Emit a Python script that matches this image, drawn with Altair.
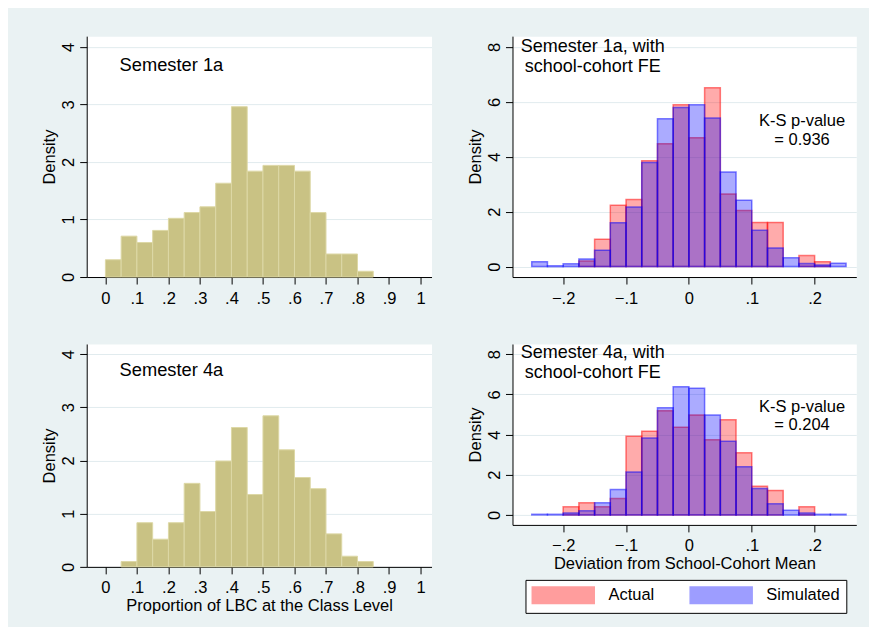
import altair as alt
import pandas as pd

FONT = "Liberation Sans"
BG = "#EAF2F3"
GRID = "#E1EBEE"
KHAKI = "#C9C284"
KHAKI_EDGE = "#DDD8A6"

# ---------------- data: left panels (Proportion of LBC, bin width .05)
lbc_bin_start = [0.00, 0.05, 0.10, 0.15, 0.20, 0.25, 0.30, 0.35, 0.40, 0.45,
                 0.50, 0.55, 0.60, 0.65, 0.70, 0.75, 0.80]
lbc_bin_end = [0.05, 0.10, 0.15, 0.20, 0.25, 0.30, 0.35, 0.40, 0.45, 0.50,
               0.55, 0.60, 0.65, 0.70, 0.75, 0.80, 0.85]
sem1_density = [0.30, 0.71, 0.60, 0.81, 1.02, 1.12, 1.22, 1.63, 2.96, 1.84,
                1.94, 1.94, 1.84, 1.12, 0.40, 0.40, 0.10]
sem4_density = [0.00, 0.10, 0.83, 0.52, 0.83, 1.57, 1.04, 1.99, 2.62, 1.36,
                2.84, 2.20, 1.68, 1.47, 0.62, 0.20, 0.10]

# ---------------- data: right panels (deviation from school-cohort mean, bin width .025)
dev_bin_start = [-0.250, -0.225, -0.200, -0.175, -0.150, -0.125, -0.100, -0.075, -0.050, -0.025,
                 0.000, 0.025, 0.050, 0.075, 0.100, 0.125, 0.150, 0.175, 0.200, 0.225]
dev_bin_end = [-0.225, -0.200, -0.175, -0.150, -0.125, -0.100, -0.075, -0.050, -0.025, 0.000,
               0.025, 0.050, 0.075, 0.100, 0.125, 0.150, 0.175, 0.200, 0.225, 0.250]
s1_actual = [0.00, 0.00, 0.00, 0.20, 1.00, 2.23, 2.44, 3.85, 4.47, 5.89,
             4.69, 6.51, 2.64, 2.04, 1.61, 1.61, 0.00, 0.40, 0.18, 0.00]
s1_simulated = [0.18, 0.03, 0.10, 0.28, 0.60, 1.60, 2.17, 3.79, 5.38, 5.79,
                5.89, 5.41, 3.44, 2.42, 1.32, 0.68, 0.32, 0.11, 0.06, 0.12]
s4_actual = [0.00, 0.00, 0.40, 0.60, 0.40, 0.81, 3.92, 4.17, 5.19, 4.36,
             4.98, 3.74, 4.74, 3.09, 1.42, 1.22, 0.00, 0.40, 0.00, 0.00]
s4_simulated = [0.03, 0.03, 0.10, 0.20, 0.60, 1.26, 2.13, 3.83, 5.34, 6.38,
                6.30, 4.98, 3.67, 2.40, 1.31, 0.55, 0.23, 0.10, 0.03, 0.03]
series_names = ["Actual", "Simulated"]
series_colors = ["#FF0000", "#0000FF"]

# ---------------- ticks / labels
lbc_ticks = [0, 0.1, 0.2, 0.3, 0.4, 0.5, 0.6, 0.7, 0.8, 0.9, 1]
dev_ticks = [-0.2, -0.1, 0, 0.1, 0.2]
left_y_ticks = [0, 1, 2, 3, 4]
right_y_ticks = [0, 2, 4, 6, 8]

s1_title = "Semester 1a"
s4_title = "Semester 4a"
s1fe_title = "Semester 1a, with\nschool-cohort FE"
s4fe_title = "Semester 4a, with\nschool-cohort FE"
s1_ks = "K-S p-value\n= 0.936"
s4_ks = "K-S p-value\n= 0.204"

LABEL_EXPR = ("datum.value == 0 ? '0' : (abs(datum.value - round(datum.value)) < 1e-9 ? "
              "format(datum.value, 'd') : replace(format(datum.value, '.1f'), '0.', '.'))")


def axis_x(values, title):
    kw = dict(values=values, grid=False, domainColor="black", domainWidth=1,
              tickColor="black", tickSize=7, tickWidth=1, labelFont=FONT,
              labelFontSize=16.5, labelColor="black", labelPadding=6,
              labelExpr=LABEL_EXPR, labelOverlap=False, labelFlush=False,
              labelBaseline="top", titleFont=FONT, titleFontSize=16.5,
              titleFontWeight="normal", titleColor="black", titlePadding=1)
    return alt.Axis(title=title, **kw)


def axis_y(values):
    return alt.Axis(values=values, title="Density", grid=True, gridColor=GRID, gridWidth=1,
                    domainColor="black", domainWidth=1, tickColor="black", tickSize=7,
                    tickWidth=1, labelFont=FONT, labelFontSize=16.5, labelColor="black",
                    labelPadding=6, labelAngle=270, labelAlign="center",
                    labelBaseline="alphabetic", labelOverlap=False, labelFlush=False,
                    titleFont=FONT, titleFontSize=16.5, titleFontWeight="normal",
                    titleColor="black", titlePadding=3.5)


def text_layer(label, x, y, xscale, yscale, xaxis, yaxis, size, align, line_height):
    df = pd.DataFrame({"x": [x], "y": [y], "label": [label]})
    return alt.Chart(df).mark_text(font=FONT, fontSize=size, align=align,
                                   baseline="alphabetic", color="black",
                                   lineBreak="\n", lineHeight=line_height).encode(
        x=alt.X("x:Q", scale=xscale, axis=xaxis),
        y=alt.Y("y:Q", scale=yscale, axis=yaxis),
        text="label:N",
    )


def left_panel(density, title, xtitle, height, ydom):
    df = pd.DataFrame({"start": lbc_bin_start, "end": lbc_bin_end, "density": density})
    xscale = alt.Scale(domain=[-0.0593, 1.0349], nice=False, zero=False)
    yscale = alt.Scale(domain=ydom, nice=False)
    xaxis = axis_x(lbc_ticks, xtitle)
    yaxis = axis_y(left_y_ticks)
    bars = alt.Chart(df).transform_filter("datum.density > 0").mark_bar(
        color=KHAKI, stroke=KHAKI_EDGE, strokeWidth=1).encode(
        x=alt.X("start:Q", scale=xscale, axis=xaxis),
        x2="end:Q",
        y=alt.Y("density:Q", scale=yscale, axis=yaxis),
        y2=alt.datum(0),
    )
    txt = text_layer(title, 0.045, 3.58, xscale, yscale, xaxis, yaxis, 18.3, "left", 20)
    return alt.layer(bars, txt).properties(width=345, height=height)


def right_panel(actual, simulated, title, title_y, ks, ks_y, xtitle, height, ydom, legend):
    df = pd.DataFrame({
        "start": dev_bin_start + dev_bin_start,
        "end": dev_bin_end + dev_bin_end,
        "density": actual + simulated,
        "series": [series_names[0]] * len(actual) + [series_names[1]] * len(simulated),
    })
    xscale = alt.Scale(domain=[-0.2806, 0.2663], nice=False, zero=False)
    yscale = alt.Scale(domain=ydom, nice=False)
    xaxis = axis_x(dev_ticks, xtitle)
    yaxis = axis_y(right_y_ticks)
    cscale = alt.Scale(domain=series_names, range=series_colors)
    if legend:
        leg = alt.Legend(title=None, orient="none", legendX=13, legendY=236,
                         direction="horizontal", columns=2,
                         symbolType="M-1,-1L6.56,-1L6.56,1L-1,1Z",
                         symbolSize=269, symbolStrokeWidth=1.5, symbolOpacity=0.38,
                         labelFont=FONT, labelFontSize=16.5, labelColor="black",
                         labelOffset=59, columnPadding=32, padding=6,
                         strokeColor="black", fillColor="white", labelLimit=300)
    else:
        leg = None
    bars = alt.Chart(df).transform_filter("datum.density > 0").mark_bar(
        strokeWidth=1.5, fillOpacity=0.33, strokeOpacity=0.5).encode(
        x=alt.X("start:Q", scale=xscale, axis=xaxis),
        x2="end:Q",
        y=alt.Y("density:Q", scale=yscale, axis=yaxis),
        y2=alt.datum(0),
        fill=alt.Fill("series:N", scale=cscale, legend=leg),
        stroke=alt.Stroke("series:N", scale=cscale, legend=leg),
    )
    t1 = text_layer(title, -0.153, title_y, xscale, yscale, xaxis, yaxis, 18, "center", 20)
    t2 = text_layer(ks, 0.180, ks_y, xscale, yscale, xaxis, yaxis, 16.5, "center", 18.5)
    return alt.layer(bars, t1, t2).properties(width=344, height=height)


p1 = left_panel(sem1_density, s1_title, None, 241, [0, 4.186])
p3 = left_panel(sem4_density, s4_title, "Proportion of LBC at the Class Level", 223, [0, 4.19])
p2 = right_panel(s1_actual, s1_simulated, s1fe_title, 7.80, s1_ks, 5.115,
                 None, 241, [-0.379, 8.39], False)
p4 = right_panel(s4_actual, s4_simulated, s4fe_title, 7.836, s4_ks, 5.141,
                 "Deviation from School-Cohort Mean", 181, [-0.498, 8.51], True)

RES = dict(x="independent", y="independent", fill="independent", stroke="independent")
LRES = dict(fill="independent", stroke="independent")
row1 = alt.hconcat(p1, p2, spacing=34).resolve_scale(**RES).resolve_legend(**LRES)
row2 = alt.hconcat(p3, p4, spacing=34).resolve_scale(**RES).resolve_legend(**LRES)
chart = alt.vconcat(row1, row2, spacing=36).resolve_scale(**RES).resolve_legend(
    **LRES).properties(
    background=BG,
    padding={"left": 31.75, "top": 27, "right": 11.7, "bottom": 12},
).configure_view(fill="white", stroke="transparent")

chart.save("out.html", embed_options={"renderer": "svg", "actions": False})
